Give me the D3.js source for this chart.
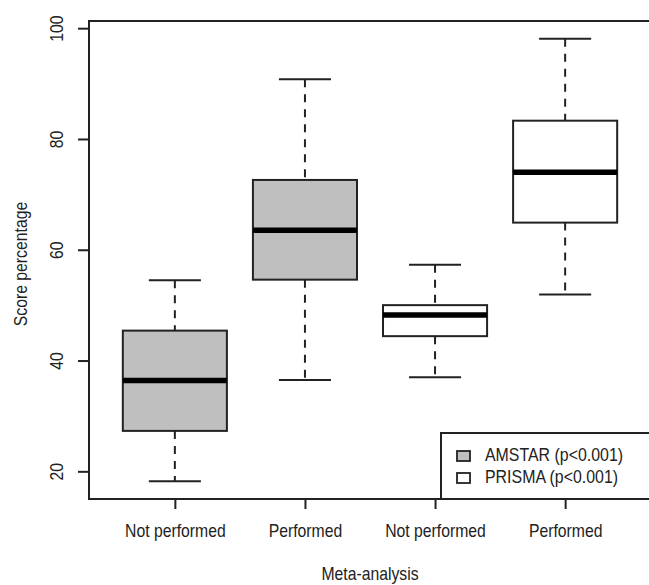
<!DOCTYPE html>
<html>
<head>
<meta charset="utf-8">
<script src="https://cdn.jsdelivr.net/npm/d3@7"></script>
<style>
  body { margin: 0; background: #fff; }
  svg text { font-family: "Liberation Sans", Arial, sans-serif; fill: #222; }
</style>
</head>
<body>
<div id="chart"></div>
<script>
// data
const groups = ["Not performed", "Performed", "Not performed", "Performed"];
const tools = ["AMSTAR", "AMSTAR", "PRISMA", "PRISMA"];
const whiskerLow = [18.2, 36.5, 37.0, 51.9];
const q1 = [27.3, 54.6, 44.4, 64.9];
const median = [36.4, 63.5, 48.2, 74.0];
const q3 = [45.4, 72.6, 50.0, 83.3];
const whiskerHigh = [54.5, 90.8, 57.3, 98.1];
const yTicks = [20, 40, 60, 80, 100];
const legendLabels = ["AMSTAR (p<0.001)", "PRISMA (p<0.001)"];
const fills = { AMSTAR: "#bfbfbf", PRISMA: "#ffffff" };

const width = 649, height = 585;
const plotLeft = 89, plotRight = 651, plotTop = 21, plotBottom = 499;
const narrow = "scale(0.83,1)"; // the original uses a condensed face

const boxes = groups.map((g, i) => ({
  pos: i + 1, group: g, tool: tools[i],
  lo: whiskerLow[i], q1: q1[i], med: median[i], q3: q3[i], hi: whiskerHigh[i]
}));

// R-style ranges: padded by 4%
const xDom = [0.5, groups.length + 0.5];
const xPad = (xDom[1] - xDom[0]) * 0.04;
const x = d3.scaleLinear().domain([xDom[0] - xPad, xDom[1] + xPad]).range([plotLeft, plotRight]);

const yMin = d3.min(whiskerLow), yMax = d3.max(whiskerHigh);
const yPad = (yMax - yMin) * 0.04;
const y = d3.scaleLinear().domain([yMin - yPad, yMax + yPad]).range([plotBottom, plotTop]);

const svg = d3.select("#chart").append("svg")
  .attr("width", width).attr("height", height);

const ink = "#222";
const boxW = 0.8, capW = 0.4;

// whiskers
const wh = svg.append("g").selectAll(".box").data(boxes).join("g").attr("class", "box");

wh.append("line")
  .attr("x1", d => x(d.pos)).attr("x2", d => x(d.pos))
  .attr("y1", d => y(d.hi)).attr("y2", d => y(d.q3))
  .attr("stroke", ink).attr("stroke-width", 2).attr("stroke-dasharray", "8,7");
wh.append("line")
  .attr("x1", d => x(d.pos)).attr("x2", d => x(d.pos))
  .attr("y1", d => y(d.q1)).attr("y2", d => y(d.lo))
  .attr("stroke", ink).attr("stroke-width", 2).attr("stroke-dasharray", "8,7");

// caps
["hi", "lo"].forEach(k => {
  wh.append("line")
    .attr("x1", d => x(d.pos - capW / 2)).attr("x2", d => x(d.pos + capW / 2))
    .attr("y1", d => y(d[k])).attr("y2", d => y(d[k]))
    .attr("stroke", ink).attr("stroke-width", 2);
});

// boxes
wh.append("rect")
  .attr("x", d => x(d.pos - boxW / 2))
  .attr("width", d => x(d.pos + boxW / 2) - x(d.pos - boxW / 2))
  .attr("y", d => y(d.q3))
  .attr("height", d => y(d.q1) - y(d.q3))
  .attr("fill", d => fills[d.tool])
  .attr("stroke", ink).attr("stroke-width", 2);

// medians
wh.append("line")
  .attr("x1", d => x(d.pos - boxW / 2)).attr("x2", d => x(d.pos + boxW / 2))
  .attr("y1", d => y(d.med)).attr("y2", d => y(d.med))
  .attr("stroke", "#000").attr("stroke-width", 5.5);

// plot frame
svg.append("rect")
  .attr("x", plotLeft).attr("y", plotTop)
  .attr("width", plotRight - plotLeft).attr("height", plotBottom - plotTop)
  .attr("fill", "none").attr("stroke", ink).attr("stroke-width", 2);

// y axis
const yAxis = svg.append("g")
  .attr("transform", `translate(${plotLeft},0)`)
  .call(d3.axisLeft(y).tickValues(yTicks).tickSize(11));
yAxis.select(".domain").remove();
yAxis.selectAll(".tick line").attr("stroke", ink).attr("stroke-width", 2);
yAxis.selectAll(".tick text")
  .attr("transform", `rotate(-90) ${narrow}`)
  .attr("x", 0).attr("y", -26).attr("dy", null)
  .attr("text-anchor", "middle")
  .style("font-size", "19px");

// x axis
const xAxis = svg.append("g")
  .attr("transform", `translate(0,${plotBottom})`)
  .call(d3.axisBottom(x).tickValues(boxes.map(d => d.pos))
    .tickFormat((d, i) => groups[i]).tickSize(10));
xAxis.select(".domain").remove();
xAxis.selectAll(".tick line").attr("stroke", ink).attr("stroke-width", 2);
xAxis.selectAll(".tick text")
  .attr("transform", `translate(0,38) ${narrow}`)
  .attr("y", 0).attr("dy", null)
  .style("font-size", "19px");

// axis titles
svg.append("text")
  .attr("transform", `translate(27,${(plotTop + plotBottom) / 2 + 4}) rotate(-90) ${narrow}`)
  .attr("text-anchor", "middle")
  .style("font-size", "19px")
  .text("Score percentage");

svg.append("text")
  .attr("transform", `translate(${x(2.5)},580) ${narrow}`)
  .attr("text-anchor", "middle")
  .style("font-size", "19px")
  .text("Meta-analysis");

// legend
const leg = svg.append("g");
leg.append("rect")
  .attr("x", 441).attr("y", 433)
  .attr("width", 230).attr("height", plotBottom - 433)
  .attr("fill", "#fff").attr("stroke", ink).attr("stroke-width", 2);

const items = leg.selectAll(".item").data(legendLabels).join("g")
  .attr("class", "item")
  .attr("transform", (d, i) => `translate(0,${451 + i * 22})`);
items.append("rect")
  .attr("x", 457).attr("y", 0).attr("width", 13).attr("height", 10)
  .attr("fill", (d, i) => fills[tools[i * 2]])
  .attr("stroke", ink).attr("stroke-width", 1.8);
items.append("text")
  .attr("transform", "translate(485,10) scale(0.86,1)")
  .style("font-size", "18.5px")
  .text(d => d);
</script>
</body>
</html>
